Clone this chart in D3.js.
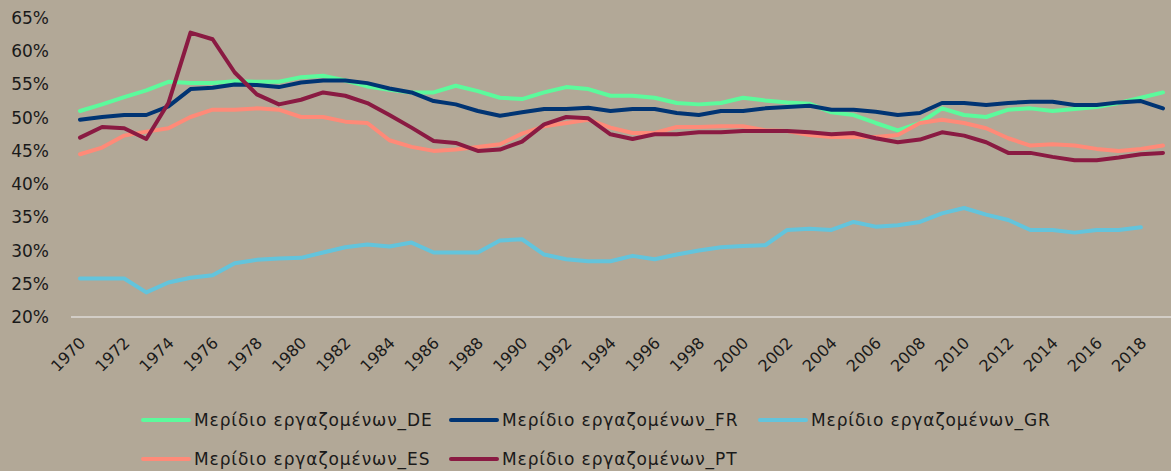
<!DOCTYPE html>
<html><head><meta charset="utf-8">
<script src="https://cdn.jsdelivr.net/npm/d3@7/dist/d3.min.js"></script>
<style>
html,body{margin:0;padding:0;background:#b2a897;}
svg{display:block;}
text{font-family:"DejaVu Sans",sans-serif;fill:#1a1a1a;}
</style></head><body>
<svg id="chart" width="1171" height="471"></svg>
<script>
const years = d3.range(1970, 2020);
const yTicks = [0.20,0.25,0.30,0.35,0.40,0.45,0.50,0.55,0.60,0.65];
const seriesNames = ["Μερίδιο εργαζομένων_DE","Μερίδιο εργαζομένων_FR","Μερίδιο εργαζομένων_GR","Μερίδιο εργαζομένων_ES","Μερίδιο εργαζομένων_PT"];
const colors = ["#5cfa9c","#003473","#63c4dc","#ff8a78","#8a1a42"];
const DE = [51.0,52.0,53.1,54.1,55.4,55.2,55.2,55.5,55.4,55.4,56.1,56.3,55.6,54.7,54.2,53.8,53.8,54.8,54.0,53.0,52.8,53.8,54.6,54.3,53.3,53.3,53.0,52.2,52.0,52.2,53.0,52.6,52.3,52.1,50.8,50.4,49.2,48.1,49.2,51.4,50.4,50.1,51.2,51.4,51.0,51.3,51.6,52.2,53.0,53.8];
const FR = [49.7,50.1,50.4,50.4,51.7,54.3,54.5,55.0,54.9,54.6,55.3,55.6,55.6,55.2,54.4,53.8,52.5,52.0,51.0,50.3,50.8,51.3,51.3,51.5,51.0,51.3,51.3,50.7,50.4,51.0,51.0,51.4,51.6,51.8,51.2,51.2,50.9,50.4,50.7,52.2,52.2,51.9,52.2,52.4,52.4,51.9,51.9,52.3,52.5,51.4];
const GR = [25.8,25.8,25.8,23.7,25.2,25.9,26.3,28.1,28.6,28.8,28.9,29.7,30.5,30.9,30.6,31.2,29.7,29.7,29.7,31.5,31.7,29.4,28.7,28.4,28.4,29.2,28.7,29.4,30.0,30.5,30.7,30.8,33.1,33.3,33.1,34.3,33.6,33.8,34.3,35.6,36.4,35.4,34.6,33.1,33.1,32.7,33.1,33.1,33.5,null];
const ES = [44.5,45.5,47.3,47.9,48.4,50.1,51.2,51.2,51.4,51.2,50.1,50.1,49.4,49.2,46.6,45.6,45.0,45.2,45.6,46.0,47.6,48.7,49.2,49.7,48.5,47.7,47.7,48.6,48.6,48.7,48.7,48.1,48.0,47.4,47.1,47.1,47.1,47.4,49.2,49.7,49.2,48.4,46.9,45.8,46.0,45.8,45.3,45.0,45.3,45.8];
const PT = [47.0,48.6,48.4,46.8,52.2,62.8,61.8,56.8,53.5,52.0,52.7,53.8,53.3,52.2,50.4,48.5,46.5,46.2,45.0,45.2,46.4,49.0,50.1,49.9,47.5,46.8,47.5,47.5,47.8,47.8,48.0,48.0,48.0,47.8,47.5,47.7,46.9,46.3,46.7,47.8,47.3,46.3,44.7,44.7,44.1,43.6,43.6,44.0,44.5,44.7];
const seriesValues = [DE, FR, GR, ES, PT];

const svg = d3.select("#chart");
const x = d3.scalePoint().domain(years).range([80, 1163]);
const y = d3.scaleLinear().domain([0.20, 0.65]).range([317, 18]);

// baseline
svg.append("line").attr("x1",71).attr("x2",1171).attr("y1",y(0.20)).attr("y2",y(0.20))
  .attr("stroke","#dcdad6").attr("stroke-width",1.5);

// y axis
const yAxis = d3.axisLeft(y).tickValues(yTicks).tickFormat(d3.format(".0%")).tickSize(0).tickPadding(0);
const gy = svg.append("g").attr("transform","translate(49,0)").call(yAxis);
gy.select(".domain").remove();
gy.selectAll("text").attr("font-size",17).attr("fill","#1a1a1a").attr("font-family","DejaVu Sans");

// x axis
const xAxis = d3.axisBottom(x).tickValues(years.filter(d => d % 2 === 0)).tickSize(0).tickPadding(0);
const gx = svg.append("g").attr("transform","translate(2,340)").call(xAxis);
gx.select(".domain").remove();
gx.selectAll("text").attr("font-size",16).attr("fill","#1a1a1a").attr("font-family","DejaVu Sans")
  .attr("text-anchor","end").attr("dy","0.35em").attr("dx","0")
  .attr("transform","rotate(-45)");

// lines
const line = d3.line().defined(d => d.v != null).x(d => x(d.year)).y(d => y(d.v/100));
seriesValues.forEach((vals, i) => {
  const data = years.map((yr, j) => ({year: yr, v: vals[j]}));
  svg.append("path").datum(data).attr("d", line).attr("fill","none")
    .attr("stroke", colors[i]).attr("stroke-width",4)
    .attr("stroke-linejoin","round").attr("stroke-linecap","round");
});

// legend
const legendPos = [[143,420],[451,420],[760,420],[143,459],[451,459]];
seriesNames.forEach((name, i) => {
  const g = svg.append("g").attr("transform",`translate(${legendPos[i][0]},${legendPos[i][1]})`);
  g.append("line").attr("x1",0).attr("x2",46).attr("y1",0).attr("y2",0)
    .attr("stroke",colors[i]).attr("stroke-width",4).attr("stroke-linecap","round");
  g.append("text").attr("x",51).attr("y",0).attr("dy","0.35em").attr("font-size",17)
    .attr("letter-spacing","0.9px").text(name);
});
</script>
</body></html>
